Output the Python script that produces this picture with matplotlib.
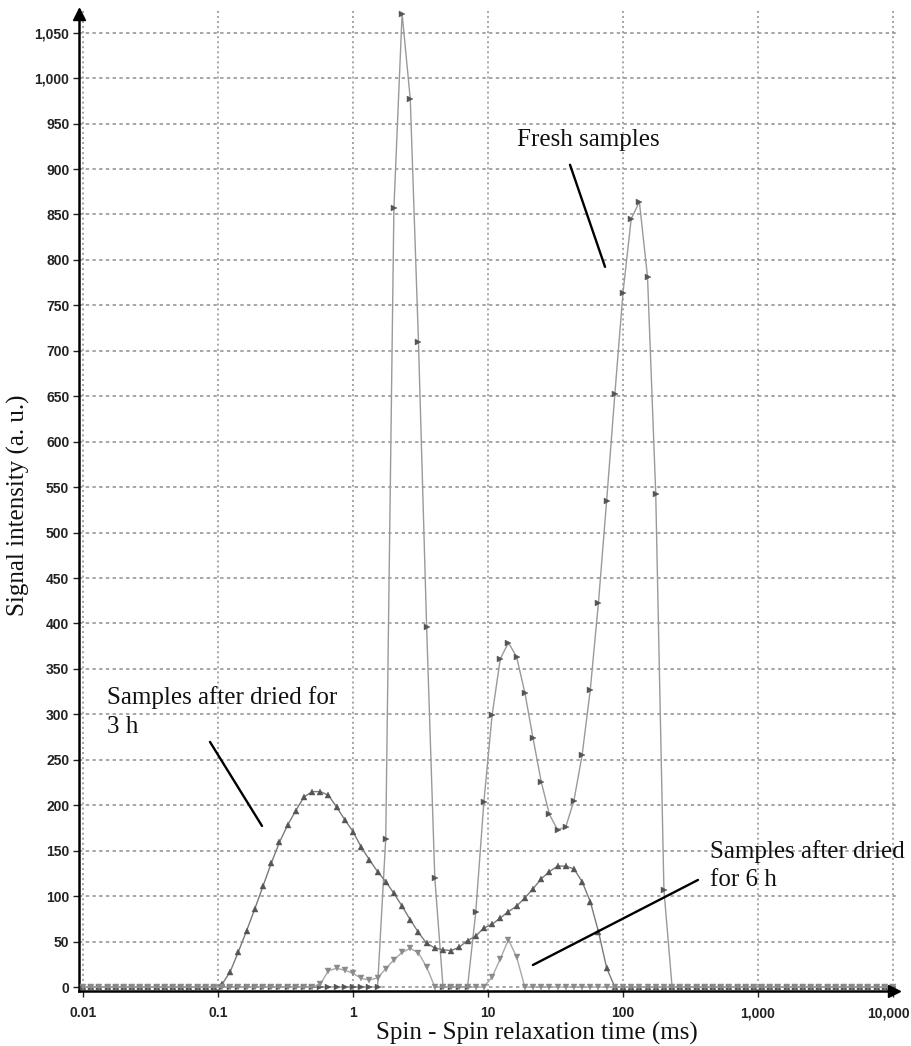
import numpy as np
import matplotlib
matplotlib.use("Agg")
import matplotlib.pyplot as plt
import matplotlib.transforms as mtransforms

# relaxation-time grid of the inversion (ms), 100 log-spaced points
t2_ms = np.logspace(-2, 4, 100)

fresh = [
    0, 0, 0, 0, 0, 0, 0, 0, 0, 0,
    0, 0, 0, 0, 0, 0, 0, 0, 0, 0,
    0, 0, 0, 0, 0, 0, 0, 0, 0, 0,
    0, 0, 0, 0, 0, 0, 0, 163, 857, 1071,
    977, 710, 396, 120, 0, 0, 0, 0, 82, 204,
    299, 361, 379, 363, 324, 274, 226, 190, 173, 176,
    205, 255, 327, 423, 535, 652, 764, 845, 864, 781,
    543, 107, 0, 0, 0, 0, 0, 0, 0, 0,
    0, 0, 0, 0, 0, 0, 0, 0, 0, 0,
    0, 0, 0, 0, 0, 0, 0, 0, 0, 0,
]

dried_3h = [
    0, 0, 0, 0, 0, 0, 0, 0, 0, 0,
    0, 0, 0, 0, 0, 0, 0, 3, 17, 39,
    62, 86, 111, 136, 159, 178, 194, 209, 215, 215,
    211, 198, 184, 171, 154, 140, 127, 116, 103, 89,
    74, 60, 48, 43, 41, 40, 44, 51, 56, 65,
    69, 76, 83, 89, 98, 108, 119, 127, 133, 133,
    130, 116, 94, 61, 21, 0, 0, 0, 0, 0,
    0, 0, 0, 0, 0, 0, 0, 0, 0, 0,
    0, 0, 0, 0, 0, 0, 0, 0, 0, 0,
    0, 0, 0, 0, 0, 0, 0, 0, 0, 0,
]

dried_6h = [
    0, 0, 0, 0, 0, 0, 0, 0, 0, 0,
    0, 0, 0, 0, 0, 0, 0, 0, 0, 0,
    0, 0, 0, 0, 0, 0, 0, 0, 0, 3,
    18, 20.5, 18.5, 15, 9.5, 7.7, 10, 20, 30, 38,
    42.5, 37.5, 22, 0, 0, 0, 0, 0, 0, 0,
    11, 31, 52, 33, 0, 0, 0, 0, 0, 0,
    0, 0, 0, 0, 0, 0, 0, 0, 0, 0,
    0, 0, 0, 0, 0, 0, 0, 0, 0, 0,
    0, 0, 0, 0, 0, 0, 0, 0, 0, 0,
    0, 0, 0, 0, 0, 0, 0, 0, 0, 0,
]

x_ticks = [0.01, 0.1, 1, 10, 100, 1000, 10000]
x_tick_labels = ["0.01", "0.1", "1", "10", "100", "1,000", "10,000"]
y_ticks = list(range(0, 1051, 50))
y_tick_labels = [f"{v:,}" for v in y_ticks]

serif = ["Liberation Serif", "DejaVu Serif"]
sans = ["Liberation Sans", "DejaVu Sans"]

W, H = 912, 1046
fig = plt.figure(figsize=(W / 100, H / 100), dpi=100)
fig.patch.set_facecolor("white")
ax = fig.add_axes([79 / W, (H - 991) / H, (897 - 79) / W, (991 - 10) / H])
ax.set_xscale("log")
ax.set_xlim(10 ** -2.0296, 10 ** 4.0296)
ax.set_ylim(-4.4, 1075)

ax.grid(True, axis="y", which="major", color="#8e8e8e", linestyle=(0, (2.2, 2.2)), linewidth=1.1)
ax.grid(True, axis="x", which="major", color="#8e8e8e", linestyle=(0, (1.3, 2.0)), linewidth=1.1)
ax.set_axisbelow(True)

ax.plot(t2_ms, fresh, color="#9a9a9a", lw=1.0, marker=">", ms=3.8,
        mfc="#555555", mec="#555555", mew=0.3, zorder=3)
ax.plot(t2_ms, dried_3h, color="#7a7a7a", lw=1.0, marker="^", ms=3.8,
        mfc="#555555", mec="#555555", mew=0.3, zorder=3)
ax.plot(t2_ms, dried_6h, color="#a8a8a8", lw=1.0, marker="v", ms=3.8,
        mfc="#8a8a8a", mec="#8a8a8a", mew=0.3, zorder=3)

for s in ("top", "right"):
    ax.spines[s].set_visible(False)
for s in ("left", "bottom"):
    ax.spines[s].set_linewidth(1.8)
    ax.spines[s].set_color("black")
ax.plot(0.996, 0, marker=">", color="black", ms=9, transform=ax.transAxes, clip_on=False, zorder=5)
ax.plot(0, 0.996, marker="^", color="black", ms=9, transform=ax.transAxes, clip_on=False, zorder=5)

ax.set_xticks(x_ticks)
ax.set_xticklabels(x_tick_labels, fontfamily=sans, fontweight="bold", fontsize=10)
ax.xaxis.set_minor_locator(matplotlib.ticker.NullLocator())
ax.set_yticks(y_ticks)
ax.set_yticklabels(y_tick_labels, fontfamily=sans, fontweight="bold", fontsize=10)
ax.tick_params(axis="x", direction="out", length=4, width=1, pad=7, colors="#222222")
ax.tick_params(axis="y", direction="out", length=4, width=1, pad=3, colors="#222222")

# keep the last x tick label inside the picture edge
last = ax.get_xticklabels()[-1]
last.set_transform(last.get_transform() + mtransforms.ScaledTranslation(-5 / 100, 0, fig.dpi_scale_trans))

fig.text(537 / W, 1 - 1033 / H, "Spin - Spin relaxation time (ms)", fontfamily=serif,
         fontsize=18, ha="center", va="center", color="#111111")
fig.text(18 / W, 1 - 505 / H, "Signal intensity (a. u.)", fontfamily=serif,
         fontsize=18, ha="center", va="center", rotation=90, color="#111111")

# annotations
txt = dict(fontfamily=serif, fontsize=18, color="#111111", ha="left", va="center", zorder=6)
ax.text(16.4, 932, "Fresh samples", **txt)
ax.text(0.01506, 318, "Samples after dried for", **txt)
ax.text(0.01506, 286, "3 h", **txt)
ax.text(441, 149, "Samples after dried", **txt)
ax.text(441, 118, "for 6 h", **txt)

ptr = dict(color="black", lw=1.7, zorder=6, solid_capstyle="round")
ax.plot([40.5, 73.6], [904.7, 792.4], **ptr)
ax.plot([0.0872, 0.2118], [269.7, 177.2], **ptr)
ax.plot([21.5, 359.3], [24.2, 117.8], **ptr)

fig.savefig("out.png", dpi=100, facecolor="white")
